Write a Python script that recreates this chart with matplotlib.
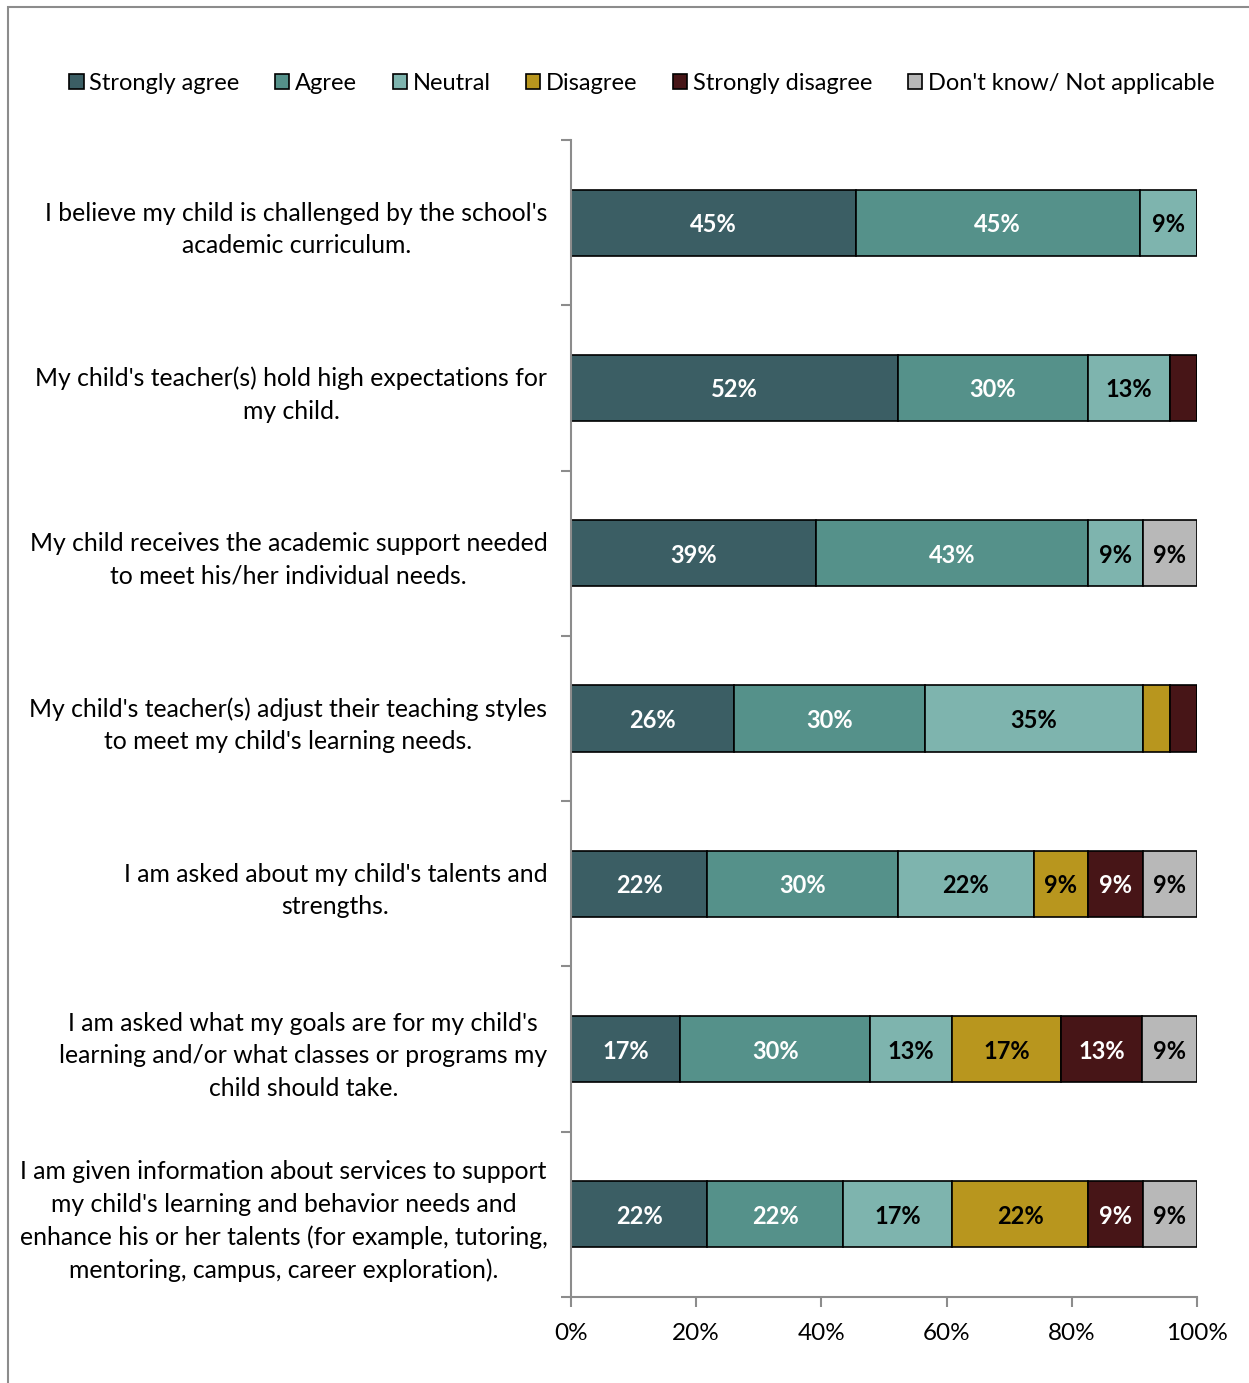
import numpy as np
import matplotlib
matplotlib.use("Agg")
import matplotlib.pyplot as plt
from matplotlib.patches import Rectangle

plt.rcParams['font.family'] = ['Lato', 'DejaVu Sans']

# survey statements, top to bottom
statements = [
    "I believe my child is challenged by the school's\nacademic curriculum.",
    "My child's teacher(s) hold high expectations for\nmy child.",
    "My child receives the academic support needed\nto meet his/her individual needs.",
    "My child's teacher(s) adjust their teaching styles\nto meet my child's learning needs.",
    "I am asked about my child's talents and\nstrengths.",
    "I am asked what my goals are for my child's\nlearning and/or what classes or programs my\nchild should take.",
    "I am given information about services to support\nmy child's learning and behavior needs and\nenhance his or her talents (for example, tutoring,\nmentoring, campus, career exploration).",
]

responses = ["Strongly agree", "Agree", "Neutral", "Disagree",
             "Strongly disagree", "Don't know/ Not applicable"]

# percent of respondents per statement
strongly_agree = [45.45, 52.17, 39.13, 26.09, 21.74, 17.39, 21.74]
agree = [45.45, 30.43, 43.48, 30.43, 30.43, 30.43, 21.74]
neutral = [9.09, 13.04, 8.70, 34.78, 21.74, 13.04, 17.39]
disagree = [0, 0, 0, 4.35, 8.70, 17.39, 21.74]
strongly_disagree = [0, 4.35, 0, 4.35, 8.70, 13.04, 8.70]
dont_know = [0, 0, 8.70, 0, 8.70, 8.70, 8.70]

series = [strongly_agree, agree, neutral, disagree, strongly_disagree, dont_know]
colors = ["#3B5E64", "#55918A", "#7EB4AE", "#B8961E", "#471517", "#B8B8B8"]
text_colors = ["white", "white", "black", "black", "white", "black"]

fig = plt.figure(figsize=(12.49, 13.83), dpi=100)
ax = fig.add_axes([571 / 1249, 1 - 1297 / 1383, 626 / 1249, (1297 - 140) / 1383])

# outer chart frame
fig.patches.append(Rectangle((8 / 1249, -0.1), 1.2, 1 - 7 / 1383 + 0.1,
                             transform=fig.transFigure, fill=False,
                             edgecolor="#8C8C8C", linewidth=1.5))

y = np.arange(len(statements))
left = np.zeros(len(statements))
for vals, col, tc, name in zip(series, colors, text_colors, responses):
    vals = np.array(vals)
    bars = ax.barh(y, vals, left=left, height=0.4, color=col,
                   edgecolor="black", linewidth=1.2, label=name)
    for b, v in zip(bars, vals):
        if v >= 8:
            ax.text(b.get_x() + b.get_width() / 2, b.get_y() + b.get_height() / 2,
                    f"{v:.0f}%", ha="center", va="center_baseline", color=tc,
                    fontsize=17, fontweight="bold")
    left += vals

ax.set_xlim(0, 100)
ax.set_ylim(len(statements) - 0.5, -0.5)

ax.set_xticks(np.arange(0, 101, 20))
ax.set_xticklabels([f"{t}%" for t in range(0, 101, 20)], fontsize=17.5)
ax.set_yticks(y)
ax.set_yticklabels(statements, fontsize=17.8, multialignment="center",
                   linespacing=1.5, va="center_baseline")
ax.set_yticks(np.arange(-0.5, len(statements)), minor=True)
ax.tick_params(axis="y", which="major", length=0, pad=17)
ax.tick_params(axis="y", which="minor", length=7, width=1.5, color="#8C8C8C")
ax.tick_params(axis="x", length=7, width=1.5, color="#8C8C8C", pad=12)

for side in ["top", "right"]:
    ax.spines[side].set_visible(False)
for side in ["left", "bottom"]:
    ax.spines[side].set_color("#8C8C8C")
    ax.spines[side].set_linewidth(1.5)

fig.legend(loc="center", bbox_to_anchor=(642 / 1249, 1 - 83 / 1383), ncol=6,
           frameon=False, fontsize=17, handlelength=0.6, handleheight=0.6,
           handletextpad=0.25, columnspacing=1.5)

fig.savefig("out.png", dpi=100)
